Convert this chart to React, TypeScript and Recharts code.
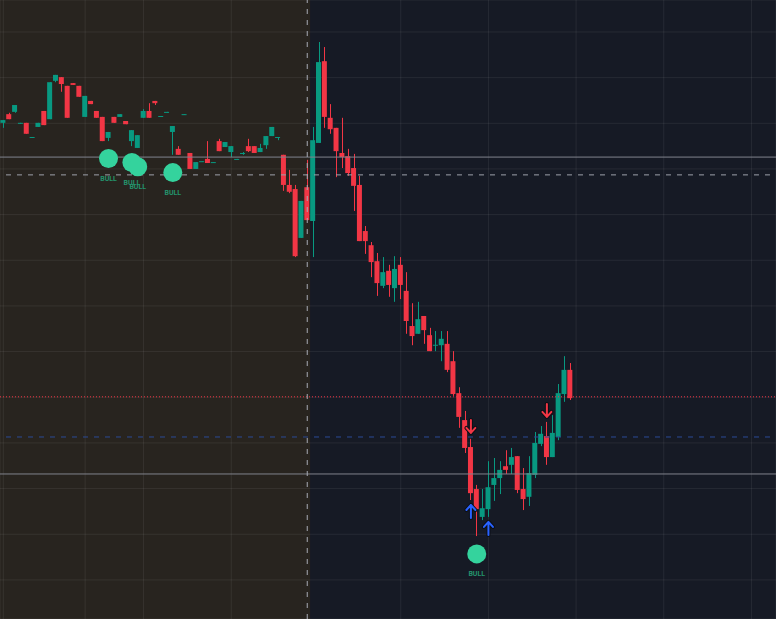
import React from "react";
import {
  Bar,
  CartesianGrid,
  ComposedChart,
  ReferenceArea,
  ReferenceLine,
  Scatter,
  XAxis,
  YAxis,
} from "recharts";

// OHLC per bar
const opens = [
  220.1, 222.0, 222.5, 219.9, 220.1, 216.9, 219.2, 222.7, 220.9, 229.3, 230.1, 228.2, 228.8, 228.2, 221.4, 224.9,
  222.7, 221.4, 216.8, 221.4, 221.4, 220.5, 216.1, 214.6, 221.2, 222.7, 224.9, 221.5, 222.4, 218.1, 214.4, 221.9,
  213.5, 210.0, 211.6, 212.2, 211.4, 216.1, 214.8, 213.7, 212.1, 213.3, 215.0, 215.0, 213.7, 215.2, 217.2, 216.9,
  213.1, 206.5, 205.6, 194.9, 206.0, 198.6, 215.7, 233.6, 221.2, 219.0, 213.5, 212.8, 210.2, 206.5, 196.4, 193.3,
  189.8, 184.4, 187.7, 183.9, 189.0, 183.3, 175.6, 173.9, 177.8, 173.6, 171.4, 171.4, 171.7, 167.9, 160.9, 155.0,
  149.1, 139.9, 133.8, 135.5, 140.8, 142.3, 144.9, 145.2, 147.1, 139.9, 138.2, 143.0, 149.8, 151.5, 146.9, 151.3,
  160.7, 166.0,
];
const highs = [
  220.7, 222.3, 224.0, 220.1, 220.1, 217.0, 220.1, 222.7, 229.0, 230.6, 230.1, 228.2, 228.8, 228.2, 226.0, 224.9,
  222.7, 221.4, 218.1, 221.4, 222.0, 220.5, 218.5, 217.4, 223.1, 224.4, 224.9, 221.6, 222.5, 219.4, 215.0, 222.0,
  213.5, 211.5, 211.7, 216.1, 211.5, 216.6, 215.9, 215.0, 212.2, 213.7, 216.6, 215.0, 215.5, 217.2, 219.2, 217.0,
  213.1, 209.8, 206.5, 203.0, 212.0, 219.2, 237.8, 236.7, 224.2, 219.0, 221.2, 214.4, 213.3, 208.5, 197.5, 194.0,
  191.6, 190.7, 189.0, 190.9, 190.7, 187.4, 180.6, 180.9, 177.8, 175.2, 174.5, 174.5, 174.5, 170.1, 162.2, 157.0,
  150.9, 140.8, 139.9, 146.0, 146.7, 146.0, 148.4, 148.9, 147.1, 144.5, 147.1, 152.4, 153.7, 154.6, 156.1, 162.9,
  169.0, 167.5,
];
const lows = [
  219.0, 220.9, 222.3, 219.9, 217.7, 216.9, 219.2, 219.6, 220.9, 229.0, 226.9, 221.2, 228.4, 225.8, 221.4, 224.2,
  221.2, 216.1, 216.1, 220.1, 221.4, 219.8, 215.0, 214.6, 221.2, 221.2, 224.0, 221.5, 222.4, 213.1, 213.1, 221.9,
  210.0, 210.0, 211.6, 211.3, 211.4, 213.9, 214.8, 212.6, 212.1, 213.1, 213.7, 213.5, 213.7, 214.4, 217.2, 216.3,
  205.2, 204.7, 190.7, 194.9, 198.8, 190.7, 215.7, 219.0, 217.7, 208.2, 210.2, 208.5, 200.8, 194.2, 191.4, 186.3,
  182.2, 183.9, 182.0, 180.9, 181.5, 173.9, 171.4, 173.9, 171.7, 170.1, 170.1, 167.9, 165.5, 160.3, 153.3, 147.8,
  137.5, 129.6, 133.1, 133.8, 137.3, 138.8, 143.2, 143.2, 139.0, 135.3, 136.2, 142.3, 149.3, 145.2, 146.9, 150.6,
  159.0, 159.4,
];
const closes = [
  220.7, 220.9, 224.0, 220.1, 217.7, 217.0, 220.1, 219.6, 229.0, 230.6, 228.6, 221.2, 228.4, 225.8, 226.0, 224.2,
  221.2, 216.1, 218.1, 220.1, 222.0, 219.8, 218.5, 217.4, 222.7, 221.2, 224.4, 221.6, 222.5, 219.4, 213.1, 222.0,
  210.0, 211.5, 211.7, 211.3, 211.5, 213.9, 215.9, 215.0, 212.2, 213.5, 213.9, 213.5, 214.6, 217.2, 219.2, 217.0,
  206.5, 205.0, 190.9, 203.0, 198.8, 216.3, 233.4, 221.4, 218.7, 213.9, 212.6, 209.1, 206.3, 194.2, 194.2, 189.6,
  185.0, 187.4, 184.6, 188.1, 184.6, 176.7, 173.4, 177.1, 174.7, 170.1, 171.5, 172.8, 166.0, 160.7, 155.7, 148.9,
  139.0, 135.5, 135.7, 140.3, 142.3, 144.1, 144.1, 146.9, 139.7, 137.7, 143.4, 150.0, 152.0, 146.9, 152.2, 160.9,
  166.0, 159.8,
];

// signal markers (bar index, price)
const bullIdx = [18, 22, 23, 29, 81];
const bullPrice = [212.3, 211.4, 210.5, 209.2, 125.7];
const upArrowIdx = [80, 83];
const upArrowPrice = [136.4, 132.7];
const downArrowIdx = [80, 93];
const downArrowPrice = [152.2, 155.7];

// levels
const solidLevels = [212.6, 143.2];
const dashedLevel = 208.7;
const dottedLevel = 160.1;
const blueLevel = 151.3;
const sessionSplit = 52;

const priceGrid = [240, 230, 220, 210, 200, 190, 180, 170, 160, 150, 140, 130, 120];
const timeGrid = [0, 14, 24, 39, 68, 83, 98, 113, 128];

const X_DOMAIN: [number, number] = [-0.565, 132.2];
const Y_DOMAIN: [number, number] = [111.44, 247];

const GREEN = "#089981";
const RED = "#f23645";

const rows = opens.map((o, i) => ({
  i,
  o,
  h: highs[i],
  l: lows[i],
  c: closes[i],
  range: [lows[i], highs[i]],
}));
const bulls = bullIdx.map((i, k) => ({ i, p: bullPrice[k] }));
const ups = upArrowIdx.map((i, k) => ({ i, p: upArrowPrice[k] }));
const downs = downArrowIdx.map((i, k) => ({ i, p: downArrowPrice[k] }));

const Candle = (props: any) => {
  let { x, y, width, height } = props;
  const { o, h, l, c } = props.payload;
  if (height < 0) {
    y += height;
    height = -height;
  }
  const color = c >= o ? GREEN : RED;
  const span = h - l;
  const py = (v: number) => (span > 0 ? y + ((h - v) / span) * height : y);
  const top = py(Math.max(o, c));
  const bot = py(Math.min(o, c));
  const cx = Math.round(x + width / 2) + 0.5;
  return (
    <g>
      <line x1={cx} x2={cx} y1={y} y2={y + height} stroke={color} strokeWidth={1} />
      <rect x={x} y={top} width={width} height={Math.max(bot - top, 1)} fill={color} />
    </g>
  );
};

const BullDot = ({ cx, cy }: any) => (
  <g>
    <circle cx={cx} cy={cy} r={9.5} fill="#34d39d" />
    <text
      x={cx}
      y={cy + 22.5}
      textAnchor="middle"
      fontSize={7}
      fontWeight="bold"
      fontFamily="Roboto, sans-serif"
      fill="#24936c"
    >
      BULL
    </text>
  </g>
);

const UpArrow = ({ cx, cy }: any) => {
  const d = `M${cx},${cy + 13} L${cx},${cy} M${cx - 4.5},${cy + 5} L${cx},${cy} L${cx + 4.5},${cy + 5}`;
  return (
    <g fill="none" strokeLinecap="round" strokeLinejoin="round">
      <path d={d} stroke="#0c0f16" strokeWidth={4} />
      <path d={d} stroke="#2962ff" strokeWidth={2} />
    </g>
  );
};

const DownArrow = ({ cx, cy }: any) => {
  const d = `M${cx},${cy - 13} L${cx},${cy} M${cx - 4.5},${cy - 5} L${cx},${cy} L${cx + 4.5},${cy - 5}`;
  return (
    <g fill="none" strokeLinecap="round" strokeLinejoin="round">
      <path d={d} stroke="#0c0f16" strokeWidth={4} />
      <path d={d} stroke={RED} strokeWidth={2} />
    </g>
  );
};

export default function App() {
  return (
    <div style={{ position: "absolute", left: 0, top: 0, width: 776, height: 619, background: "#161a25" }}>
      <ComposedChart width={776} height={619} data={rows} margin={{ top: 0, right: 0, bottom: 0, left: 0 }}>
        {/* earlier session shading, kept under the grid */}
        <ReferenceArea
          x1={X_DOMAIN[0]}
          x2={sessionSplit + 0.5}
          fill="#28241f"
          fillOpacity={1}
          stroke="none"
          {...({ zIndex: -200 } as any)}
        />
        <CartesianGrid stroke="rgba(255,255,255,0.07)" />
        <XAxis
          dataKey="i"
          type="number"
          domain={X_DOMAIN}
          ticks={timeGrid}
          interval={0}
          allowDataOverflow
          hide
        />
        <YAxis type="number" domain={Y_DOMAIN} ticks={priceGrid} interval={0} allowDataOverflow hide />
        <Bar dataKey="range" barSize={5} shape={<Candle />} isAnimationActive={false} />
        {solidLevels.map((v) => (
          <ReferenceLine key={v} y={v} stroke="#80838d" strokeWidth={1} />
        ))}
        <ReferenceLine
          segment={[
            { x: 0.46, y: dashedLevel },
            { x: 131.2, y: dashedLevel },
          ]}
          stroke="#9ea1aa"
          strokeDasharray="5 6"
        />
        <ReferenceLine y={dottedLevel} stroke={RED} strokeDasharray="1 2" />
        <ReferenceLine
          segment={[
            { x: 0.46, y: blueLevel },
            { x: 131.2, y: blueLevel },
          ]}
          stroke="#2b4a96"
          strokeDasharray="5 6"
        />
        <ReferenceLine x={sessionSplit} stroke="#a9acb5" strokeDasharray="5 6" />
        <Scatter data={bulls} dataKey="p" shape={<BullDot />} isAnimationActive={false} />
        <Scatter data={ups} dataKey="p" shape={<UpArrow />} isAnimationActive={false} />
        <Scatter data={downs} dataKey="p" shape={<DownArrow />} isAnimationActive={false} />
      </ComposedChart>
    </div>
  );
}
